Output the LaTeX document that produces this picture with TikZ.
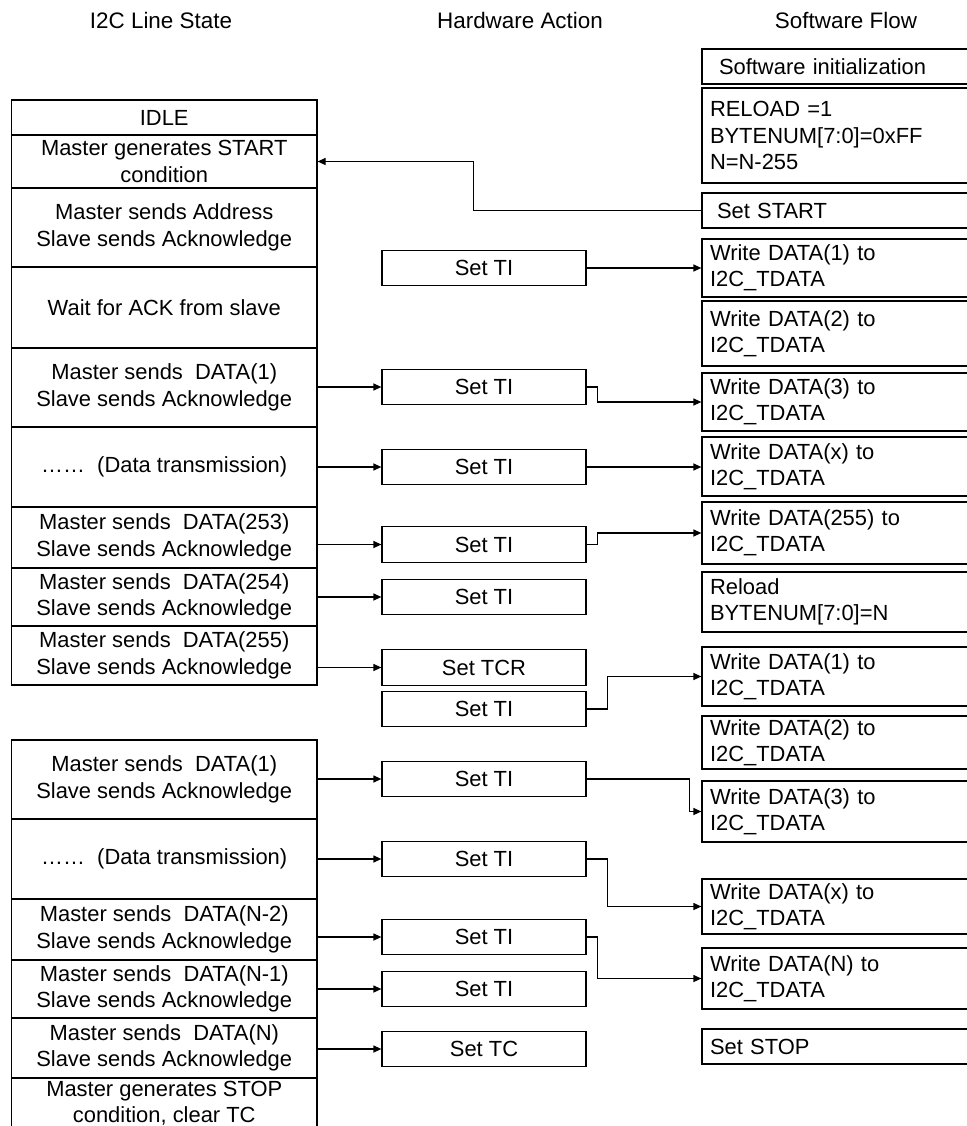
\documentclass[tikz,border=0pt]{standalone}
\usepackage{fontspec}
\setmainfont{Liberation Sans}
\usetikzlibrary{arrows.meta}
\begin{document}
\begin{tikzpicture}[x=1bp,y=-1bp,
  font=\fontsize{22}{26.5}\selectfont,
  lbox/.style={draw, line width=1.2bp, minimum width=305.5bp, inner sep=0pt, align=center},
  hbox/.style={draw, line width=1.2bp, minimum width=204bp, minimum height=35.5bp, inner sep=0pt},
  rbox/.style={draw, line width=1.2bp, text width=262bp, inner xsep=8bp, inner ysep=0pt, align=left},
  hdr/.style={anchor=base, inner sep=0pt, font=\fontsize{22.5}{27}\selectfont},
  arr/.style={line width=1.2bp, -{Triangle[length=8bp,width=7bp]}}]
\useasboundingbox (0,0) rectangle (967,1126);
% headers
\node[hdr] (h1) at (161,28) {I2C Line State};
\node[hdr] (h2) at (520,28) {Hardware Action};
\node[hdr] (h3) at (846,28) {Software Flow};
% left stack 1
\node[lbox, minimum height=35bp] (L0) at (164.25,117.5) {IDLE};
\node[lbox, minimum height=53bp] (L1) at (164.25,161.5) {Master generates START\\condition};
\node[lbox, minimum height=79bp] (L2) at (164.25,227.5) {Master sends Address\\Slave sends Acknowledge};
\node[lbox, minimum height=81bp] (L3) at (164.25,307.5) {Wait for ACK from slave};
\node[lbox, minimum height=79bp] (L4) at (164.25,387.5) {Master sends~ DATA(1)\\Slave sends Acknowledge};
\node[lbox, minimum height=80bp] (L5) at (164.25,467) {……~ (Data transmission)};
\node[lbox, minimum height=61bp] (L6) at (164.25,537.5) {Master sends~ DATA(253)\\Slave sends Acknowledge};
\node[lbox, minimum height=58bp] (L7) at (164.25,597) {Master sends~ DATA(254)\\Slave sends Acknowledge};
\node[lbox, minimum height=59bp] (L8) at (164.25,655.5) {Master sends~ DATA(255)\\Slave sends Acknowledge};
% left stack 2
\node[lbox, minimum height=79bp] (M1) at (164.25,779.5) {Master sends~ DATA(1)\\Slave sends Acknowledge};
\node[lbox, minimum height=80bp] (M2) at (164.25,859) {……~ (Data transmission)};
\node[lbox, minimum height=61bp] (M3) at (164.25,929.5) {Master sends~ DATA(N-2)\\Slave sends Acknowledge};
\node[lbox, minimum height=58bp] (M4) at (164.25,989) {Master sends~ DATA(N-1)\\Slave sends Acknowledge};
\node[lbox, minimum height=60bp] (M5) at (164.25,1048) {Master sends~ DATA(N)\\Slave sends Acknowledge};
\node[lbox, minimum height=50bp] (M6) at (164.25,1103) {Master generates STOP\\condition, clear TC};
% hardware actions
\node[hbox] (H1) at (484,268) {Set TI};
\node[hbox] (H2) at (484,387) {Set TI};
\node[hbox] (H3) at (484,467) {Set TI};
\node[hbox] (H4) at (484,544.5) {Set TI};
\node[hbox] (H5) at (484,597) {Set TI};
\node[hbox] (H6) at (484,667.5) {Set TCR};
\node[hbox] (H7) at (484,709) {Set TI};
\node[hbox] (H8) at (484,779) {Set TI};
\node[hbox] (H9) at (484,859) {Set TI};
\node[hbox] (H10) at (484,937) {Set TI};
\node[hbox] (H11) at (484,989) {Set TI};
\node[hbox] (H12) at (484,1049) {Set TC};
% software flow
\node[rbox, minimum height=35bp] (R0) at (841,66.5) {\hspace*{9bp}Software initialization};
\node[rbox, minimum height=95bp] (R1) at (841,135.5) {RELOAD =1\\BYTENUM[7:0]=0xFF\\N=N-255};
\node[rbox, minimum height=35bp] (R2) at (841,210.5) {\hspace*{7bp}Set START};
\node[rbox, minimum height=58bp] (R3) at (841,268) {Write DATA(1) to\\I2C\_TDATA};
\node[rbox, minimum height=65bp] (R4) at (841,333.5) {Write DATA(2) to\\I2C\_TDATA};
\node[rbox, minimum height=58bp] (R5) at (841,402) {Write DATA(3) to\\I2C\_TDATA};
\node[rbox, minimum height=59bp] (R6) at (841,466.5) {Write DATA(x) to\\I2C\_TDATA};
\node[rbox, minimum height=62bp] (R7) at (841,533) {Write DATA(255) to\\I2C\_TDATA};
\node[rbox, minimum height=60bp] (R8) at (841,602) {Reload\\BYTENUM[7:0]=N};
\node[rbox, minimum height=59bp] (R9) at (841,676.5) {Write DATA(1) to\\I2C\_TDATA};
\node[rbox, minimum height=53bp] (R10) at (841,742.5) {Write DATA(2) to\\I2C\_TDATA};
\node[rbox, minimum height=61bp] (R11) at (841,811.5) {Write DATA(3) to\\I2C\_TDATA};
\node[rbox, minimum height=55bp] (R12) at (841,906.5) {Write DATA(x) to\\I2C\_TDATA};
\node[rbox, minimum height=61bp] (R13) at (841,978.5) {Write DATA(N) to\\I2C\_TDATA};
\node[rbox, minimum height=35bp] (R14) at (841,1046.5) {Set STOP};
% connectors
\draw[arr] (R2.west) -- ++(-228,0) |- (L1.east);
\draw[arr] (H1.east) -- (H1.east -| R3.west);
\draw[arr] (L4.east |- H2.west) -- (H2.west);
\draw[arr] (H2.east) -- ++(11,0) |- (R5.west);
\draw[arr] (L5.east |- H3.west) -- (H3.west);
\draw[arr] (H3.east) -- (H3.east -| R6.west);
\draw[arr] (L6.east |- H4.west) -- (H4.west);
\draw[arr] (H4.east) -- ++(11,0) |- (R7.west);
\draw[arr] (L7.east |- H5.west) -- (H5.west);
\draw[arr] (L8.east |- H6.west) -- (H6.west);
\draw[arr] (H7.east) -- ++(21,0) |- (R9.west);
\draw[arr] (M1.east |- H8.west) -- (H8.west);
\draw[arr] (H8.east) -- ++(103,0) |- (R11.west);
\draw[arr] (M2.east |- H9.west) -- (H9.west);
\draw[arr] (H9.east) -- ++(21,0) |- (R12.west);
\draw[arr] (M3.east |- H10.west) -- (H10.west);
\draw[arr] (H10.east) -- ++(11,0) |- (R13.west);
\draw[arr] (M4.east |- H11.west) -- (H11.west);
\draw[arr] (M5.east |- H12.west) -- (H12.west);
\end{tikzpicture}
\end{document}
